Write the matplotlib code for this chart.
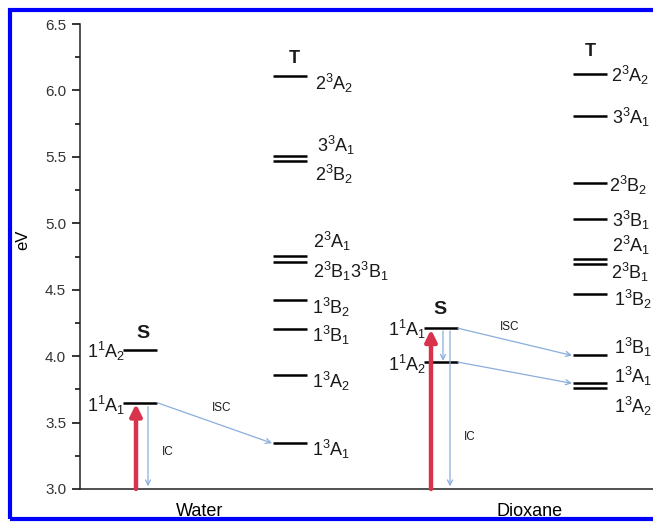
import numpy as np
import matplotlib
matplotlib.use('Agg')
import matplotlib.pyplot as plt
from matplotlib.patches import Rectangle

plt.rcParams['font.family'] = ['Liberation Sans', 'DejaVu Sans']
plt.rcParams['mathtext.fontset'] = 'custom'
plt.rcParams['mathtext.rm'] = 'Liberation Sans'
plt.rcParams['mathtext.it'] = 'Liberation Sans'
plt.rcParams['text.color'] = '#1a1a1a'

# ---- energy levels (eV) ----
water_s_labels = ['1^1A_2', '1^1A_1']
water_s_e = [4.045, 3.65]

water_t_labels = ['2^3A_2', '3^3A_1', '2^3B_2', '2^3A_1', '2^3B_13^3B_1',
                  '1^3B_2', '1^3B_1', '1^3A_2', '1^3A_1']
water_t_e = [6.105, 5.505, 5.47, 4.755, 4.705, 4.42, 4.205, 3.86, 3.345]

dioxane_s_labels = ['1^1A_1', '1^1A_2']
dioxane_s_e = [4.21, 3.955]

dioxane_t_labels = ['2^3A_2', '3^3A_1', '2^3B_2', '3^3B_1', '2^3A_1', '2^3B_1',
                    '1^3B_2', '1^3B_1', '1^3A_1', '1^3A_2']
dioxane_t_e = [6.12, 5.81, 5.305, 5.035, 4.73, 4.69, 4.47, 4.005, 3.795, 3.76]

solvents = ['Water', 'Dioxane']

# label vertical offsets (eV) and x indent (axis units)
water_t_dy = [-0.05, 0.08, -0.10, 0.11, -0.07, -0.05, -0.05, -0.05, -0.05]
water_t_dx = [8, 10, 8, 6, 6, 5, 5, 5, 5]
dioxane_t_dy = [-0.01, -0.01, -0.02, -0.01, 0.10, -0.06, -0.04, 0.06, 0.05, -0.14]
dioxane_t_dx = [4, 5, 2, 5, 5, 4, 7, 7, 7, 7]
water_s_dy = [-0.01, -0.02]
dioxane_s_dy = [-0.01, -0.02]

fig = plt.figure(figsize=(6.53, 5.23), dpi=100)
ax = fig.add_axes([80 / 653, 1 - 489 / 523, 573 / 653, 465 / 523])
ax.set_xlim(0, 573)
ax.set_ylim(3.0, 6.5)

HW = 17  # half width of a level line
cols = {'ws': 60, 'wt': 210, 'ds': 361, 'dt': 510}

def levels(xc, energies):
    for e in energies:
        ax.plot([xc - HW, xc + HW], [e, e], color='black', lw=1.8,
                solid_capstyle='butt')

def tex(s):
    return r'$\mathregular{' + s + '}$'

levels(cols['ws'], water_s_e)
levels(cols['wt'], water_t_e)
levels(cols['ds'], dioxane_s_e)
levels(cols['dt'], dioxane_t_e)

FS = 13
for lab, e, dy, dx in zip(water_t_labels, water_t_e, water_t_dy, water_t_dx):
    ax.text(cols['wt'] + HW + dx, e + dy, tex(lab), fontsize=FS,
            ha='left', va='center')
for lab, e, dy, dx in zip(dioxane_t_labels, dioxane_t_e, dioxane_t_dy, dioxane_t_dx):
    ax.text(cols['dt'] + HW + dx, e + dy, tex(lab), fontsize=FS,
            ha='left', va='center', clip_on=False)
for lab, e, dy in zip(water_s_labels, water_s_e, water_s_dy):
    ax.text(cols['ws'] - HW + 2, e + dy, tex(lab), fontsize=FS,
            ha='right', va='center')
for lab, e, dy in zip(dioxane_s_labels, dioxane_s_e, dioxane_s_dy):
    ax.text(cols['ds'] - HW + 2, e + dy, tex(lab), fontsize=FS,
            ha='right', va='center')

# state group headers
ax.text(63, 4.17, 'S', fontsize=14, fontweight='bold', ha='center', va='center')
ax.text(360, 4.35, 'S', fontsize=14, fontweight='bold', ha='center', va='center')
ax.text(214, 6.24, 'T', fontsize=13, fontweight='bold', ha='center', va='center')
ax.text(510, 6.29, 'T', fontsize=13, fontweight='bold', ha='center', va='center')

red = '#d8324c'
blue = '#8aaedb'

def arrow(x0, y0, x1, y1, color, lw, ms, style):
    ax.annotate('', xy=(x1, y1), xytext=(x0, y0),
                arrowprops=dict(arrowstyle=style, color=color, lw=lw,
                                mutation_scale=ms, shrinkA=0, shrinkB=0))

# water
arrow(56, 3.0, 56, water_s_e[1] - 0.01, red, 3.2, 17, '-|>')
arrow(68, water_s_e[1] - 0.03, 68, 3.02, blue, 0.9, 9, '->')
arrow(cols['ws'] + HW, water_s_e[1], cols['wt'] - HW - 1, water_t_e[-1], blue, 0.9, 9, '->')
ax.text(142, 3.61, 'ISC', fontsize=8.5, ha='center', va='center')
ax.text(88, 3.28, 'IC', fontsize=8.5, ha='center', va='center')

# dioxane
arrow(351, 3.0, 351, dioxane_s_e[0] - 0.01, red, 3.2, 17, '-|>')
arrow(363, dioxane_s_e[0] - 0.02, 363, dioxane_s_e[1] + 0.01, blue, 0.9, 9, '->')
arrow(370, dioxane_s_e[0] - 0.02, 370, 3.02, blue, 0.9, 9, '->')
arrow(cols['ds'] + HW, dioxane_s_e[0], cols['dt'] - HW - 1, dioxane_t_e[7], blue, 0.9, 9, '->')
arrow(cols['ds'] + HW, dioxane_s_e[1], cols['dt'] - HW - 1, dioxane_t_e[8], blue, 0.9, 9, '->')
ax.text(430, 4.22, 'ISC', fontsize=8.5, ha='center', va='center')
ax.text(390, 3.39, 'IC', fontsize=8.5, ha='center', va='center')

# axes styling
for s in ['top', 'right']:
    ax.spines[s].set_visible(False)
ax.spines['left'].set_linewidth(1.1)
ax.spines['bottom'].set_linewidth(1.1)
ax.spines['left'].set_color('#222222')
ax.spines['bottom'].set_color('#222222')
ax.set_yticks(np.arange(3.0, 6.51, 0.5))
ax.set_yticks(np.arange(3.25, 6.5, 0.5), minor=True)
ax.tick_params(axis='y', which='major', length=6, width=1.1, labelsize=11,
               pad=4, labelcolor='#333333')
ax.tick_params(axis='y', which='minor', length=3.5, width=1.1)
ax.set_xticks([120, 450])
ax.set_xticklabels(solvents)
ax.tick_params(axis='x', length=0, labelsize=13, pad=10)
ax.set_ylabel('eV', fontsize=12)
ax.yaxis.set_label_coords(-0.086, 0.535)

# blue frame around the figure
fig.patches.append(Rectangle((10 / 653, 4 / 523), 1.1, 1 - 14 / 523,
                             transform=fig.transFigure, fill=False,
                             edgecolor='#0000ff', lw=3.0, clip_on=False))

fig.savefig('out.png', dpi=100)
